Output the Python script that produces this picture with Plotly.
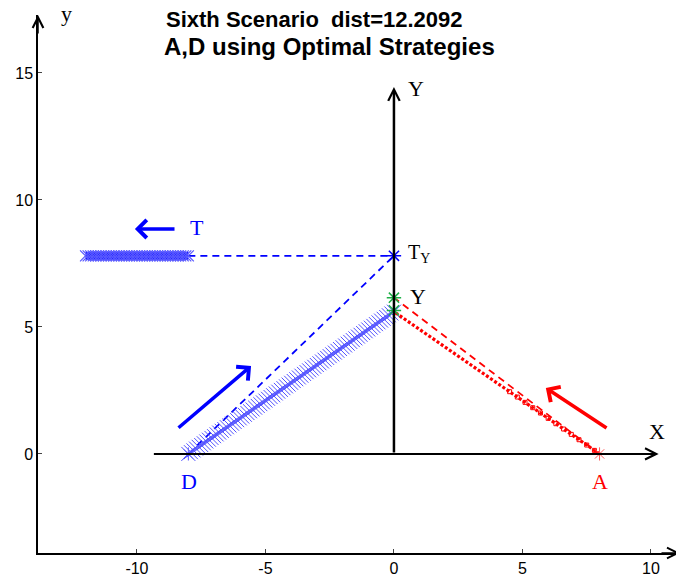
import plotly.graph_objects as go

# ---- data ----
d_path_x = [-8.0, -7.9, -7.8, -7.7, -7.6, -7.5, -7.4, -7.3, -7.2, -7.1, -7.0, -6.9, -6.8, -6.7, -6.6, -6.5,
            -6.4, -6.3, -6.2, -6.1, -6.0, -5.9, -5.8, -5.7, -5.6, -5.5, -5.4, -5.3, -5.2, -5.1, -5.0, -4.9,
            -4.8, -4.7, -4.6, -4.5, -4.4, -4.3, -4.2, -4.1, -4.0, -3.9, -3.8, -3.7, -3.6, -3.5, -3.4, -3.3,
            -3.2, -3.1, -3.0, -2.9, -2.8, -2.7, -2.6, -2.5, -2.4, -2.3, -2.2, -2.1, -2.0, -1.9, -1.8, -1.7,
            -1.6, -1.5, -1.4, -1.3, -1.2, -1.1, -1.0, -0.9, -0.8, -0.7, -0.6, -0.5, -0.4, -0.3, -0.2, -0.1, 0.0]
d_path_y = [0.00, 0.07, 0.14, 0.21, 0.28, 0.35, 0.42, 0.49, 0.56, 0.63, 0.70, 0.77, 0.84, 0.91, 0.98, 1.05,
            1.12, 1.19, 1.26, 1.33, 1.40, 1.47, 1.54, 1.61, 1.68, 1.75, 1.82, 1.89, 1.96, 2.03, 2.10, 2.17,
            2.24, 2.31, 2.38, 2.45, 2.52, 2.59, 2.66, 2.73, 2.80, 2.87, 2.94, 3.01, 3.08, 3.15, 3.22, 3.29,
            3.36, 3.43, 3.50, 3.57, 3.64, 3.71, 3.78, 3.85, 3.92, 3.99, 4.06, 4.13, 4.20, 4.27, 4.34, 4.41,
            4.48, 4.55, 4.62, 4.69, 4.76, 4.83, 4.90, 4.97, 5.04, 5.11, 5.18, 5.25, 5.32, 5.39, 5.46, 5.53, 5.60]

t_path_x = [-8.0, -8.1, -8.2, -8.3, -8.4, -8.5, -8.6, -8.7, -8.8, -8.9, -9.0, -9.1, -9.2, -9.3, -9.4, -9.5,
            -9.6, -9.7, -9.8, -9.9, -10.0, -10.1, -10.2, -10.3, -10.4, -10.5, -10.6, -10.7, -10.8, -10.9,
            -11.0, -11.1, -11.2, -11.3, -11.4, -11.5, -11.6, -11.7, -11.8, -11.9, -12.0]
t_path_y = [7.8] * 41

a_path_x = [8.0, 7.8, 7.6, 7.4, 7.2, 7.0, 6.8, 6.6, 6.4, 6.2, 6.0, 5.8, 5.6, 5.4, 5.2, 5.0, 4.8, 4.6, 4.4,
            4.2, 4.0, 3.8, 3.6, 3.4, 3.2, 3.0, 2.8, 2.6, 2.4, 2.2, 2.0, 1.8, 1.6, 1.4, 1.2, 1.0, 0.8, 0.6,
            0.4, 0.2, 0.0]
a_path_y = [0.00, 0.14, 0.28, 0.42, 0.56, 0.70, 0.84, 0.98, 1.12, 1.26, 1.40, 1.54, 1.68, 1.82, 1.96, 2.10,
            2.24, 2.38, 2.52, 2.66, 2.80, 2.94, 3.08, 3.22, 3.36, 3.50, 3.64, 3.78, 3.92, 4.06, 4.20, 4.34,
            4.48, 4.62, 4.76, 4.90, 5.04, 5.18, 5.32, 5.46, 5.60]
# sparser position markers near A
a_mark_x = [7.8, 7.5, 7.2, 6.9, 6.6, 6.3, 6.0, 5.7, 5.4, 5.1, 4.8, 4.5]
a_mark_y = [0.14, 0.35, 0.56, 0.77, 0.98, 1.19, 1.40, 1.61, 1.82, 2.03, 2.24, 2.45]

d_pred_x = [-8.0, 0.0]
d_pred_y = [0.0, 7.8]
t_pred_x = [-8.0, 0.0]
t_pred_y = [7.8, 7.8]
a_pred_x = [8.0, 0.0]
a_pred_y = [0.0, 6.15]

d_start = ([-8.0], [0.0])
a_start = ([8.0], [0.0])
ty_point = ([0.0], [7.8])
y_points = ([0.0, 0.0], [6.15, 5.65])

x_ticks = [-10, -5, 0, 5, 10]
x_tick_text = ["-10", "-5", "0", "5", "10"]
y_ticks = [0, 5, 10, 15]
y_tick_text = ["0", "5", "10", "15"]

BLUE = "rgb(0,0,255)"
RED = "rgb(255,0,0)"
GREEN = "rgb(30,175,70)"
SERIF = "Liberation Serif, Times New Roman, serif"
SANS = "Liberation Sans, Arial, sans-serif"

# page has an 8px body margin: figure is sized/placed to compensate
W, H = 676, 577
ML, MR, MT, MB = 30, 4, 7, 32
PW, PH = W - ML - MR, H - MT - MB


def px_x(page_x):
    return (page_x - 8 - ML) / PW


def px_y(page_y):
    return 1 - (page_y - 8 - MT) / PH


fig = go.Figure()

# dashed predicted lines
fig.add_trace(go.Scatter(x=d_pred_x, y=d_pred_y, mode="lines",
                         line=dict(color=BLUE, width=1.8, dash="7px,5px")))
fig.add_trace(go.Scatter(x=t_pred_x, y=t_pred_y, mode="lines",
                         line=dict(color=BLUE, width=1.8, dash="7px,5px")))
fig.add_trace(go.Scatter(x=a_pred_x, y=a_pred_y, mode="lines",
                         line=dict(color=RED, width=1.8, dash="7px,5px")))

# trajectories
fig.add_trace(go.Scatter(x=d_path_x, y=d_path_y, mode="markers",
                         marker=dict(symbol="x-thin", size=14, line=dict(color="rgb(80,80,255)", width=1))))
fig.add_trace(go.Scatter(x=t_path_x, y=t_path_y, mode="lines+markers",
                         line=dict(color=BLUE, width=8),
                         marker=dict(symbol="x-thin", size=11, line=dict(color="rgb(90,90,255)", width=1.2))))
fig.add_trace(go.Scatter(x=a_path_x, y=a_path_y, mode="lines",
                         line=dict(color=RED, width=3.2, dash="3px,2px")))
fig.add_trace(go.Scatter(x=a_mark_x, y=a_mark_y, mode="markers",
                         marker=dict(symbol="square-open", size=4, color=RED, line=dict(width=1))))

# star points
fig.add_trace(go.Scatter(x=d_start[0], y=d_start[1], mode="markers",
                         marker=dict(symbol="asterisk", size=11, line=dict(color="rgb(90,90,255)", width=1))))
fig.add_trace(go.Scatter(x=a_start[0], y=a_start[1], mode="markers",
                         marker=dict(symbol="asterisk", size=11, line=dict(color="rgb(255,90,90)", width=1))))
fig.add_trace(go.Scatter(x=ty_point[0], y=ty_point[1], mode="markers",
                         marker=dict(symbol="asterisk", size=12, line=dict(color=BLUE, width=1.5))))
fig.add_trace(go.Scatter(x=y_points[0], y=y_points[1], mode="markers",
                         marker=dict(symbol="asterisk", size=12, line=dict(color=GREEN, width=1.5))))

annotations = []
# inner coordinate axes (arrows)
annotations.append(dict(x=10.3, y=0, ax=-9.4, ay=0, xref="x", yref="y", axref="x", ayref="y",
                        showarrow=True, arrowhead=5, arrowsize=1.1, arrowwidth=2, arrowcolor="black", text=""))
annotations.append(dict(x=0, y=14.45, ax=0, ay=0, xref="x", yref="y", axref="x", ayref="y",
                        showarrow=True, arrowhead=5, arrowsize=0.9, arrowwidth=2.5, arrowcolor="black", text=""))
# outer frame arrows
annotations.append(dict(x=1, y=0, ax=-20, ay=0, xref="paper", yref="paper",
                        showarrow=True, arrowhead=5, arrowsize=1.4, arrowwidth=1.5, arrowcolor="black", text=""))
annotations.append(dict(x=0, y=1, ax=0, ay=20, xref="paper", yref="paper",
                        showarrow=True, arrowhead=5, arrowsize=1.4, arrowwidth=1.5, arrowcolor="black", text=""))
# motion arrows
annotations.append(dict(x=-5.56, y=3.46, ax=-8.44, ay=0.98, xref="x", yref="y", axref="x", ayref="y",
                        showarrow=True, arrowhead=4, arrowsize=1.0, arrowwidth=3.5, arrowcolor=BLUE, text=""))
annotations.append(dict(x=-10.08, y=8.86, ax=-8.48, ay=8.86, xref="x", yref="y", axref="x", ayref="y",
                        showarrow=True, arrowhead=4, arrowsize=1.0, arrowwidth=3.5, arrowcolor=BLUE, text=""))
annotations.append(dict(x=5.91, y=2.60, ax=8.33, ay=0.98, xref="x", yref="y", axref="x", ayref="y",
                        showarrow=True, arrowhead=4, arrowsize=1.0, arrowwidth=3.5, arrowcolor=RED, text=""))


def lab(x, y, text, color="black", size=22, xanchor="center"):
    annotations.append(dict(x=x, y=y, xref="x", yref="y", text=text, showarrow=False,
                            xanchor=xanchor, yanchor="middle",
                            font=dict(family=SERIF, size=size, color=color)))


lab(-7.67, 8.9, "T", BLUE)
lab(0.45, 7.9, "T<sub>Y</sub>", "black", 20, "left")
lab(0.95, 6.2, "Y")
lab(-7.98, -1.1, "D", BLUE)
lab(8.0, -1.1, "A", RED)
lab(10.25, 0.87, "X")
lab(0.86, 14.4, "Y")

# outer axis labels y and x
annotations.append(dict(x=px_x(66), y=px_y(13), xref="paper", yref="paper", text="y", showarrow=False,
                        xanchor="center", yanchor="middle",
                        font=dict(family=SERIF, size=22, color="black")))
annotations.append(dict(x=px_x(679), y=px_y(545), xref="paper", yref="paper", text="x", showarrow=False,
                        xanchor="left", yanchor="middle",
                        font=dict(family=SERIF, size=22, color="black")))

# title (two lines)
annotations.append(dict(x=px_x(164), y=px_y(20), xref="paper", yref="paper",
                        text="<b>Sixth Scenario  dist=12.2092</b>",
                        showarrow=False, xanchor="left", yanchor="middle",
                        font=dict(family=SANS, size=22, color="black")))
annotations.append(dict(x=px_x(162), y=px_y(47), xref="paper", yref="paper",
                        text="<b>A,D using Optimal Strategies</b>",
                        showarrow=False, xanchor="left", yanchor="middle",
                        font=dict(family=SANS, size=24, color="black")))

fig.update_layout(
    width=W, height=H,
    margin=dict(l=ML, r=MR, t=MT, b=MB),
    paper_bgcolor="white", plot_bgcolor="white",
    showlegend=False,
    annotations=annotations,
    xaxis=dict(range=[-13.85, 11.13], tickvals=x_ticks, ticktext=x_tick_text, ticks="inside", ticklen=4,
               showline=True, linecolor="black", linewidth=1.5, showgrid=False, zeroline=False,
               automargin=False, tickfont=dict(family=SANS, size=16, color="black")),
    yaxis=dict(range=[-3.9, 17.28], tickvals=y_ticks, ticktext=y_tick_text, ticks="inside", ticklen=4,
               showline=True, linecolor="black", linewidth=1.5, showgrid=False, zeroline=False,
               automargin=False, tickfont=dict(family=SANS, size=16, color="black")),
)

fig.write_html("out.html")
